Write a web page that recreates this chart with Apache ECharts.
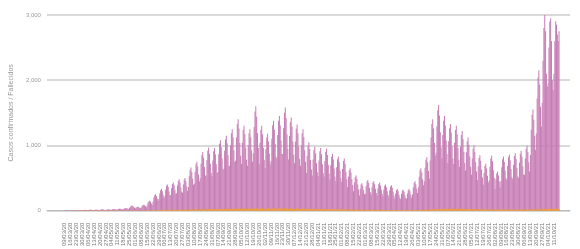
<!DOCTYPE html>
<html>
<head>
<meta charset="utf-8">
<script src="https://cdn.jsdelivr.net/npm/echarts@6.0.0/dist/echarts.min.js"></script>
<style>
  html, body { margin: 0; padding: 0; background: #fff; }
  #chart { width: 580px; height: 249px; }
</style>
</head>
<body>
<div id="chart"></div>
<script>
// primer día de la serie, una fila = una semana
const startDate = '2020-03-09'

// casos confirmados diarios
const casos = [
  2, 4, 5, 5, 4, 3, 2,
  4, 6, 8, 7, 6, 5, 4,
  5, 8, 9, 10, 9, 7, 5,
  6, 9, 11, 12, 10, 8, 6,
  8, 12, 14, 15, 13, 10, 8,
  9, 12, 15, 14, 13, 11, 8,
  11, 16, 19, 20, 18, 14, 11,
  10, 15, 18, 20, 17, 15, 12,
  14, 20, 23, 25, 22, 18, 14,
  16, 24, 28, 30, 27, 22, 17,
  22, 32, 38, 40, 36, 30, 23,
  40, 60, 75, 80, 70, 55, 45,
  35, 48, 57, 60, 55, 44, 36,
  50, 72, 85, 90, 82, 66, 52,
  82, 120, 142, 150, 135, 110, 88,
  138, 200, 236, 250, 225, 185, 150,
  180, 262, 312, 330, 298, 245, 195,
  220, 320, 380, 400, 362, 298, 240,
  236, 344, 408, 430, 390, 320, 258,
  265, 384, 455, 480, 432, 356, 288,
  275, 400, 475, 500, 450, 370, 300,
  362, 528, 626, 660, 594, 490, 396,
  412, 600, 712, 750, 675, 556, 450,
  495, 720, 855, 900, 810, 668, 540,
  534, 776, 920, 970, 873, 720, 582,
  528, 768, 912, 960, 864, 712, 576,
  594, 864, 1026, 1080, 972, 800, 648,
  632, 920, 1092, 1150, 1035, 852, 690,
  688, 1000, 1188, 1250, 1125, 926, 750,
  770, 1120, 1330, 1400, 1260, 1038, 840,
  715, 1040, 1235, 1300, 1170, 964, 780,
  688, 1000, 1188, 1250, 1125, 926, 750,
  880, 1280, 1520, 1600, 1440, 1186, 960,
  715, 1040, 1235, 1300, 1170, 964, 780,
  649, 944, 1121, 1180, 1062, 875, 708,
  759, 1104, 1311, 1380, 1242, 1023, 828,
  798, 1160, 1378, 1450, 1305, 1075, 870,
  869, 1264, 1501, 1580, 1422, 1171, 948,
  786, 1144, 1358, 1430, 1287, 1060, 858,
  726, 1056, 1254, 1320, 1188, 978, 792,
  688, 1000, 1188, 1250, 1125, 926, 750,
  578, 840, 998, 1050, 945, 778, 630,
  539, 784, 931, 980, 882, 726, 588,
  528, 768, 912, 960, 864, 712, 576,
  522, 760, 902, 950, 855, 704, 570,
  478, 696, 826, 870, 783, 645, 522,
  456, 664, 788, 830, 747, 615, 498,
  440, 640, 760, 800, 720, 593, 480,
  358, 520, 618, 650, 585, 482, 390,
  297, 432, 513, 540, 486, 400, 324,
  231, 336, 399, 420, 378, 311, 252,
  258, 376, 446, 470, 423, 348, 282,
  248, 360, 428, 450, 405, 334, 270,
  236, 344, 408, 430, 387, 319, 258,
  220, 320, 380, 400, 360, 296, 240,
  214, 312, 370, 390, 351, 289, 234,
  182, 264, 314, 330, 297, 245, 198,
  176, 256, 304, 320, 288, 237, 192,
  182, 264, 314, 330, 297, 245, 198,
  248, 360, 428, 450, 405, 334, 270,
  358, 520, 618, 650, 585, 482, 390,
  451, 656, 779, 820, 738, 608, 492,
  770, 1120, 1330, 1400, 1260, 1038, 840,
  891, 1296, 1539, 1620, 1458, 1201, 972,
  798, 1160, 1378, 1450, 1305, 1075, 870,
  732, 1064, 1264, 1330, 1197, 986, 798,
  715, 1040, 1235, 1300, 1170, 964, 780,
  671, 976, 1159, 1220, 1098, 904, 732,
  616, 896, 1064, 1120, 1008, 830, 672,
  550, 800, 950, 1000, 900, 741, 600,
  468, 680, 808, 850, 765, 630, 510,
  396, 576, 684, 720, 648, 534, 432,
  462, 672, 798, 840, 756, 623, 504,
  330, 480, 570, 600, 540, 445, 360,
  456, 664, 788, 830, 747, 615, 498,
  473, 688, 817, 860, 774, 637, 516,
  484, 704, 836, 880, 792, 652, 528,
  506, 736, 874, 920, 828, 682, 552,
  550, 800, 950, 1000, 900, 741, 600,
  853, 1240, 1472, 1550, 1395, 1149, 930,
  1183, 1720, 2042, 2150, 1935, 1594, 1290,
  1650, 2300, 2800, 3020, 2750, 2100, 1900,
  1950, 2500, 2900, 2950, 2600, 2000, 1850,
  2100, 2600, 2900, 2850, 2700, 2600, 2750
]

// fallecidos diarios
const fallecidos = [
  0, 0, 0, 0, 1, 0, 0,
  0, 1, 0, 0, 1, 0, 0,
  1, 0, 1, 1, 0, 1, 0,
  1, 1, 0, 1, 2, 1, 0,
  1, 2, 1, 1, 2, 1, 1,
  2, 1, 2, 2, 1, 1, 1,
  1, 2, 2, 1, 2, 2, 1,
  2, 2, 1, 2, 2, 1, 1,
  1, 2, 2, 3, 2, 1, 2,
  2, 3, 2, 2, 3, 2, 1,
  2, 3, 3, 2, 3, 2, 2,
  3, 3, 4, 3, 3, 2, 2,
  2, 3, 3, 4, 3, 3, 2,
  3, 4, 4, 3, 4, 3, 3,
  4, 5, 6, 5, 5, 4, 4,
  5, 7, 8, 7, 8, 6, 5,
  7, 9, 10, 9, 10, 8, 7,
  8, 10, 12, 11, 12, 10, 9,
  9, 11, 13, 12, 13, 11, 10,
  10, 12, 14, 15, 14, 12, 11,
  11, 13, 15, 16, 15, 13, 12,
  12, 15, 17, 18, 17, 15, 13,
  14, 17, 19, 20, 19, 17, 15,
  16, 19, 21, 22, 21, 19, 17,
  17, 20, 23, 24, 23, 21, 18,
  18, 21, 24, 25, 24, 22, 19,
  19, 22, 25, 27, 26, 23, 20,
  20, 24, 27, 28, 27, 25, 22,
  21, 25, 28, 30, 29, 26, 23,
  23, 27, 30, 32, 31, 28, 25,
  24, 28, 31, 33, 32, 29, 26,
  23, 27, 30, 32, 31, 28, 25,
  25, 29, 33, 35, 34, 30, 27,
  24, 28, 32, 34, 33, 29, 26,
  23, 27, 31, 33, 32, 28, 25,
  24, 28, 32, 34, 33, 30, 26,
  25, 29, 33, 35, 34, 31, 27,
  26, 30, 34, 36, 35, 31, 28,
  25, 29, 33, 35, 34, 30, 27,
  24, 28, 31, 33, 32, 29, 26,
  22, 26, 29, 31, 30, 27, 24,
  20, 24, 27, 29, 28, 25, 22,
  19, 22, 25, 27, 26, 23, 20,
  18, 21, 24, 26, 25, 22, 19,
  17, 20, 23, 25, 24, 21, 18,
  16, 19, 22, 23, 22, 20, 17,
  15, 18, 21, 22, 21, 19, 16,
  14, 17, 19, 21, 20, 18, 15,
  13, 15, 17, 19, 18, 16, 14,
  12, 14, 16, 17, 16, 14, 12,
  10, 12, 14, 15, 14, 13, 11,
  10, 12, 13, 14, 13, 12, 10,
  9, 11, 12, 13, 12, 11, 10,
  9, 10, 12, 13, 12, 10, 9,
  8, 10, 11, 12, 11, 10, 9,
  8, 9, 11, 12, 11, 9, 8,
  7, 9, 10, 11, 10, 9, 8,
  7, 8, 10, 10, 10, 8, 7,
  7, 8, 9, 10, 9, 8, 7,
  8, 9, 11, 12, 11, 9, 8,
  9, 11, 13, 14, 13, 11, 10,
  11, 13, 15, 17, 16, 14, 12,
  14, 17, 20, 22, 21, 18, 15,
  17, 21, 24, 26, 25, 22, 19,
  19, 23, 26, 28, 27, 24, 21,
  20, 24, 27, 29, 28, 25, 22,
  20, 24, 27, 29, 28, 25, 22,
  19, 23, 26, 28, 27, 24, 21,
  18, 22, 25, 27, 26, 23, 20,
  17, 20, 23, 25, 24, 21, 18,
  15, 18, 21, 23, 22, 19, 16,
  14, 16, 19, 20, 19, 17, 15,
  13, 15, 17, 19, 18, 16, 14,
  12, 14, 16, 17, 16, 15, 13,
  12, 14, 16, 17, 16, 14, 13,
  12, 14, 15, 17, 16, 14, 12,
  12, 13, 15, 16, 15, 14, 12,
  12, 14, 16, 17, 16, 14, 13,
  13, 15, 17, 18, 17, 15, 14,
  14, 16, 19, 20, 19, 17, 15,
  16, 19, 22, 24, 23, 20, 17,
  18, 22, 25, 27, 26, 23, 20,
  20, 24, 27, 29, 28, 25, 22,
  22, 26, 29, 31, 30, 27, 24
]

// etiquetas de fecha dd/mm/yy, una por día
const fechas = casos.map((v, i) => {
  const d = new Date(startDate + 'T00:00:00Z')
  d.setUTCDate(d.getUTCDate() + i)
  const dd = String(d.getUTCDate()).padStart(2, '0')
  const mm = String(d.getUTCMonth() + 1).padStart(2, '0')
  const yy = String(d.getUTCFullYear()).slice(2)
  return dd + '/' + mm + '/' + yy
})

const chartInstance = echarts.init(document.getElementById('chart'))
const initOption = {
  animation: false,
  textStyle: { fontFamily: 'Liberation Sans' },
  grid: { left: 45, right: 10, top: 15, bottom: 35 },
  xAxis: {
    type: 'value',
    min: -21, // deja hueco antes del primer día
    max: 600,
    interval: 7,
    splitLine: { show: false },
    axisLine: { show: true, lineStyle: { color: '#bbb' } },
    axisTick: { show: false },
    axisLabel: {
      rotate: 90,
      fontSize: 6,
      color: '#777',
      margin: 12,
      showMinLabel: true,
      showMaxLabel: false,
      formatter: (v) => (v >= 0 && v < fechas.length ? fechas[v] : '')
    }
  },
  yAxis: {
    type: 'value',
    min: 0,
    max: 3000,
    interval: 1000,
    name: 'Casos confirmados / Fallecidos',
    nameLocation: 'middle',
    nameGap: 26,
    nameTextStyle: { fontSize: 7, color: '#999' },
    axisLine: { show: false },
    axisTick: { show: false },
    axisLabel: { fontSize: 6, color: '#999', margin: 6 },
    splitLine: { lineStyle: { color: '#ccc', width: 1.5 } }
  },
  series: [
    {
      name: 'Casos confirmados',
      type: 'bar',
      barWidth: 1,
      data: casos.map((v, i) => [i, v]),
      itemStyle: { color: '#c67db4' }
    },
    {
      name: 'Fallecidos',
      type: 'bar',
      barWidth: 1,
      barGap: '-100%',
      data: fallecidos.map((v, i) => [i, v]),
      itemStyle: { color: '#f0a030' }
    }
  ]
}
chartInstance.setOption(initOption)
</script>
</body>
</html>
